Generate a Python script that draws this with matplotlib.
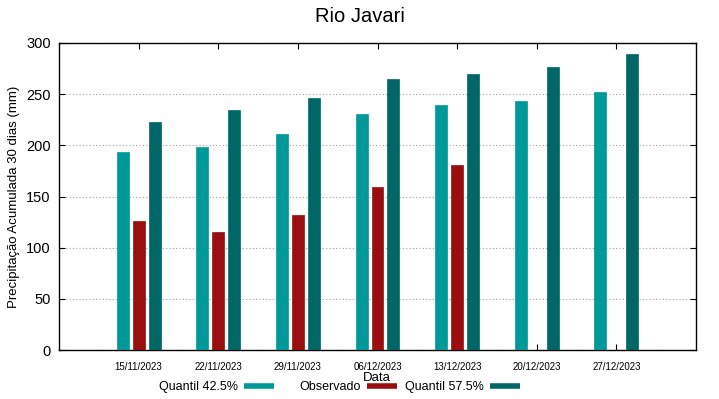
import matplotlib

matplotlib.use("Agg")
import matplotlib.pyplot as plt
import numpy as np
from matplotlib.lines import Line2D

plt.rcParams["font.family"] = ["Liberation Sans", "DejaVu Sans"]

dates = ["15/11/2023", "22/11/2023", "29/11/2023", "06/12/2023",
         "13/12/2023", "20/12/2023", "27/12/2023"]
quantil_425 = [193.8, 198.7, 210.7, 230.5, 239.0, 243.5, 252.0]
observado = [126.5, 115.5, 132.4, 158.8, 180.3, np.nan, np.nan]
quantil_575 = [222.8, 234.5, 245.9, 265.3, 269.5, 276.4, 288.8]

series = [
    ("Quantil 42.5%", quantil_425, "#009999"),
    ("Observado", observado, "#990f0f"),
    ("Quantil 57.5%", quantil_575, "#006666"),
]

fig = plt.figure(figsize=(7.19, 3.99), dpi=100)
ax = fig.add_axes([59 / 719, 1 - 350 / 399, 637 / 719, 307 / 399])

x = np.arange(len(dates))
width = 0.15
offsets = [-0.2, 0.0, 0.2]
for (name, values, color), off in zip(series, offsets):
    ax.bar(x + off, values, width, color=color, edgecolor=color, linewidth=0.5, zorder=3)

ax.set_xlim(-1, 7)
ax.set_ylim(0, 300)
ax.set_yticks(range(0, 301, 50))
ax.set_xticks(x, dates, fontsize=7)
ax.tick_params(axis="y", labelsize=10.5, direction="in", right=True, length=4, pad=6)
ax.tick_params(axis="x", direction="in", top=True, length=4, pad=9)
ax.yaxis.grid(True, color="#a0a0a0", linestyle=(0, (1, 2)), linewidth=0.8, zorder=0)
for spine in ax.spines.values():
    spine.set_linewidth(1.0)

ax.set_ylabel("Precipitação Acumulada 30 dias (mm)", fontsize=9.5)
ax.set_xlabel("Data", fontsize=9.5)
ax.xaxis.set_label_coords(0.499, -0.091)
ax.xaxis.label.set_verticalalignment("center")

fig.suptitle("Rio Javari", fontsize=14.5, y=1 - 17 / 399, va="center")

sample_ends = [274, 397, 520]
for (name, values, color), xe in zip(series, sample_ends):
    handle = Line2D([], [], color=color, linewidth=4, solid_capstyle="butt")
    fig.legend([handle], [name], loc="center right", bbox_to_anchor=(xe / 719, 1 - 387 / 399),
               frameon=False, markerfirst=False, fontsize=9, handlelength=2.4,
               handletextpad=0.5, borderpad=0, borderaxespad=0)

fig.savefig("out.png", dpi=100)
